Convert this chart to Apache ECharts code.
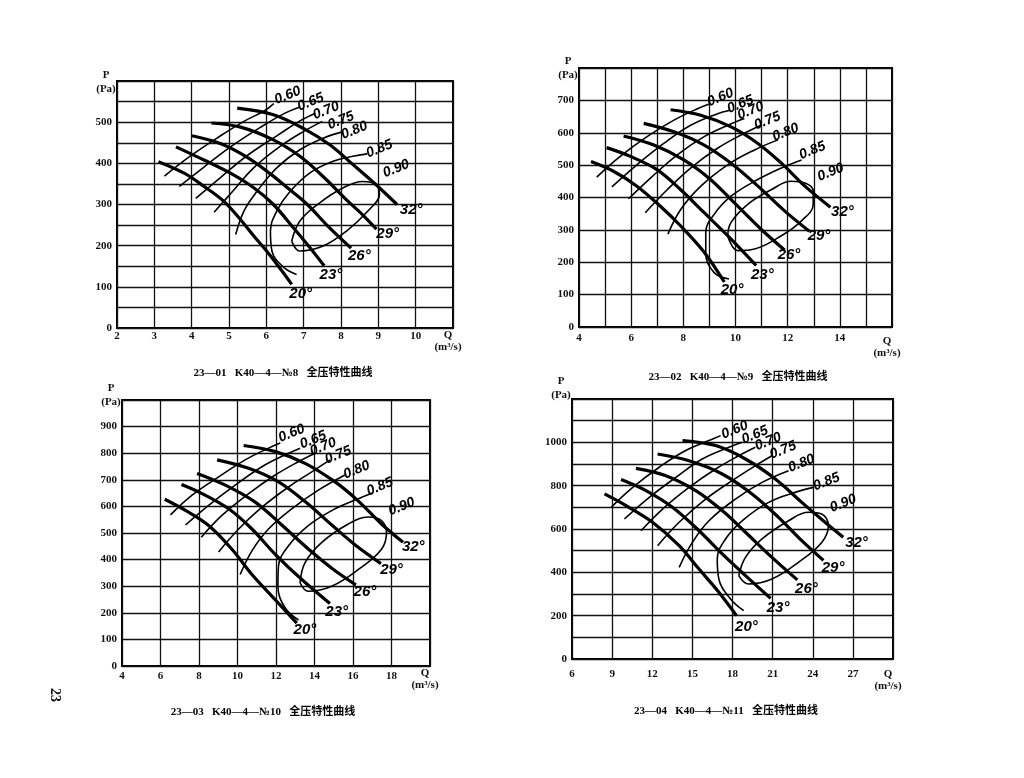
<!DOCTYPE html>
<html><head><meta charset="utf-8">
<script src="https://cdn.jsdelivr.net/npm/echarts/dist/echarts.min.js"></script>
<style>html,body{margin:0;padding:0;background:#fff}#c{width:1024px;height:778px}</style>
</head><body><div id="c"></div><script>
// ---------- names / titles ----------
const bladeNames = ['20°','23°','26°','29°','32°'];
const effNames = ['0.60','0.65','0.70','0.75','0.80','0.85','0.90'];
const titles = ['23—01   K40—4—№8   全压特性曲线','23—02   K40—4—№9   全压特性曲线','23—03   K40—4—№10   全压特性曲线','23—04   K40—4—№11   全压特性曲线'];

// ---------- tick labels ----------
const p1XTicks=[2,3,4,5,6,7,8,9,10];       const p1YTicks=[0,100,200,300,400,500];
const p2XTicks=[4,6,8,10,12,14];           const p2YTicks=[0,100,200,300,400,500,600,700];
const p3XTicks=[4,6,8,10,12,14,16,18];     const p3YTicks=[0,100,200,300,400,500,600,700,800,900];
const p4XTicks=[6,9,12,15,18,21,24,27];    const p4YTicks=[0,200,400,600,800,1000];

// ---------- panel 1 (No.8) ----------
const p1Blade=[
 [[3.11,404],[3.8,376],[4.33,344],[4.87,307],[5.31,263],[5.67,223],[5.98,190],[6.34,148],[6.68,106]],
 [[3.58,440],[4.33,408],[5.04,376],[5.67,340],[6.19,300],[6.73,243],[7.17,195],[7.55,151]],
 [[4.01,467],[4.8,447],[5.5,414],[6.1,375],[6.6,338],[7.1,300],[7.6,252],[8.27,194]],
 [[4.53,498],[5.31,488],[6.19,457],[6.9,417],[7.52,368],[8.14,312],[8.58,275],[8.95,240]],
 [[5.22,534],[6.19,518],[6.99,485],[7.7,445],[8.32,397],[8.94,348],[9.5,300]]
];
const p1Eff=[
 [[3.27,369],[3.97,418],[4.69,462],[5.4,502],[5.94,527],[6.2,545]],
 [[3.67,344],[4.33,391],[5.04,440],[5.85,488],[6.5,522],[6.9,537]],
 [[4.11,315],[4.78,366],[5.49,419],[6.3,468],[6.9,503],[7.3,521]],
 [[4.6,281],[5.1,332],[5.66,389],[6.37,441],[6.99,477],[7.5,502]],
 [[5.18,227],[5.4,284],[5.75,332],[6.28,389],[6.9,433],[7.52,461],[8.05,477]],
 [[6.81,130],[6.46,148],[6.15,187],[6.11,235],[6.28,284],[6.64,332],[7.17,377],[7.79,405],[8.32,417],[8.7,423]],
 [[6.68,211],[6.9,187],[7.52,199],[8.14,235],[8.76,288],[9.03,324],[8.94,348],[8.58,356],[8.05,340],[7.43,304],[6.9,260],[6.68,211]]
];
const p1BladeLabelPos=[[6.92,83],[7.73,128],[8.49,176],[9.25,229],[9.88,286]];
const p1EffLabelPos=[[6.57,565],[7.19,549],[7.6,528],[8.0,504],[8.36,480],[9.03,435],[9.48,387]];

// ---------- panel 2 (No.9) ----------
const p2Blade=[
 [[4.46,511],[5.32,481],[6.22,435],[7.12,373],[7.9,312],[8.8,231],[9.57,139]],
 [[5.06,554],[5.97,527],[6.99,486],[7.9,424],[8.8,353],[9.7,282],[10.79,190]],
 [[5.71,590],[6.87,562],[8.02,516],[9.05,455],[9.95,384],[10.98,302],[11.88,238]],
 [[6.48,629],[7.64,603],[8.8,562],[9.83,506],[10.86,435],[11.89,358],[12.83,296]],
 [[7.51,671],[8.67,654],[9.83,618],[10.86,567],[11.76,506],[12.66,435],[13.64,370]]
];
const p2Eff=[
 [[4.68,463],[5.58,527],[6.61,588],[7.64,639],[8.54,674],[9.05,690]],
 [[5.26,433],[6.22,501],[7.25,567],[8.28,623],[9.31,659],[9.76,669]],
 [[5.9,396],[6.74,460],[7.77,532],[8.8,588],[9.7,623],[10.34,644]],
 [[6.54,353],[7.38,424],[8.28,491],[9.31,552],[10.21,593],[10.98,623]],
 [[7.41,287],[7.9,363],[8.67,435],[9.7,501],[10.73,547],[11.63,578]],
 [[9.75,148],[9.18,168],[8.86,226],[8.86,292],[9.18,348],[9.83,404],[10.73,450],[11.76,491],[12.53,516]],
 [[9.7,282],[10.08,236],[10.73,241],[11.76,282],[12.53,328],[12.98,379],[12.98,419],[12.66,445],[12.14,450],[11.37,424],[10.47,379],[9.83,323],[9.7,282]]
];
const p2BladeLabelPos=[[9.87,114],[11.03,160],[12.05,222],[13.2,283],[14.1,355]];
const p2EffLabelPos=[[9.42,709],[10.19,688],[10.58,668],[11.22,637],[11.92,601],[12.95,545],[13.65,478]];

// ---------- panel 3 (No.10) ----------
const p3Blade=[
 [[6.22,627],[7.3,585],[8.5,528],[9.71,439],[10.75,344],[11.96,249],[13.08,161]],
 [[7.09,682],[8.16,648],[9.54,591],[10.75,515],[11.96,420],[13.34,325],[14.8,235]],
 [[7.9,724],[9.37,680],[10.92,616],[12.3,530],[13.68,440],[14.95,365],[16.15,305]],
 [[8.94,775],[10.58,743],[12.13,692],[13.51,618],[14.9,530],[16.2,450],[17.45,385]],
 [[10.32,829],[11.96,806],[13.51,762],[15.07,692],[16.28,620],[17.48,534],[18.6,465]]
];
const p3Eff=[
 [[6.52,568],[7.64,642],[9.02,711],[10.4,775],[11.61,819],[12.22,838]],
 [[7.3,530],[8.5,604],[9.88,680],[11.27,749],[12.48,794],[13.25,819]],
 [[8.12,484],[9.19,566],[10.58,648],[11.96,718],[13.16,768],[14.03,800]],
 [[9.02,429],[10.06,515],[11.27,597],[12.65,673],[13.86,730],[14.81,775]],
 [[10.14,344],[10.75,433],[11.61,515],[12.82,591],[14.2,661],[15.58,718]],
 [[13.17,173],[12.48,218],[12.1,300],[12.13,376],[12.65,452],[13.68,528],[15.07,591],[16.28,629],[17.05,651]],
 [[13.25,313],[13.68,281],[14.89,300],[16.28,363],[17.48,439],[17.74,503],[17.48,547],[16.79,560],[15.76,534],[14.38,465],[13.51,389],[13.25,313]]
];
const p3BladeLabelPos=[[13.5,135],[15.15,204],[16.62,279],[18.0,361],[19.13,449]];
const p3EffLabelPos=[[12.81,875],[13.93,850],[14.45,824],[15.23,793],[16.19,737],[17.4,674],[18.53,599]];

// ---------- panel 4 (No.11) ----------
const p4Blade=[
 [[8.43,762],[10.04,708],[12.02,631],[14.01,523],[15.5,415],[16.98,308],[18.3,200]],
 [[9.67,828],[11.53,777],[13.51,700],[15.5,592],[17.23,485],[18.97,385],[20.85,280]],
 [[10.78,880],[13.02,846],[15.25,777],[17.23,685],[18.97,585],[20.95,469],[22.85,365]],
 [[12.4,946],[14.75,915],[17.23,854],[19.46,762],[21.44,654],[23.18,546],[24.8,455]],
 [[14.26,1008],[16.74,985],[18.97,923],[21.2,831],[23.18,723],[24.92,631],[26.28,562]]
];
const p4Eff=[
 [[8.93,700],[10.54,792],[12.52,885],[14.5,962],[16.24,1008],[17.11,1031]],
 [[9.92,646],[11.78,746],[13.76,838],[15.74,923],[17.73,977],[18.72,1000]],
 [[11.16,592],[12.77,692],[14.75,792],[16.74,877],[18.47,938],[19.71,977]],
 [[12.4,523],[14.01,631],[15.99,738],[17.97,823],[19.71,892],[20.95,938]],
 [[14.01,423],[15.0,538],[16.24,638],[18.22,738],[20.21,815],[22.19,869]],
 [[18.84,223],[17.85,277],[16.98,369],[16.86,462],[17.48,554],[18.72,638],[20.7,723],[22.68,769],[24.05,792]],
 [[18.47,385],[19.21,346],[20.95,369],[22.93,446],[24.67,538],[25.17,615],[24.67,669],[23.68,677],[22.19,638],[20.21,554],[18.97,469],[18.47,385]]
];
const p4BladeLabelPos=[[19.04,149],[21.41,234],[23.53,326],[25.52,419],[27.27,534]];
const p4EffLabelPos=[[18.17,1057],[19.67,1034],[20.66,1003],[21.78,964],[23.16,903],[25.03,818],[26.27,718]];

// ---------- assembly ----------
const panels=[
 {blade:p1Blade,eff:p1Eff,bPos:p1BladeLabelPos,ePos:p1EffLabelPos,xt:p1XTicks,yt:p1YTicks},
 {blade:p2Blade,eff:p2Eff,bPos:p2BladeLabelPos,ePos:p2EffLabelPos,xt:p2XTicks,yt:p2YTicks},
 {blade:p3Blade,eff:p3Eff,bPos:p3BladeLabelPos,ePos:p3EffLabelPos,xt:p3XTicks,yt:p3YTicks},
 {blade:p4Blade,eff:p4Eff,bPos:p4BladeLabelPos,ePos:p4EffLabelPos,xt:p4XTicks,yt:p4YTicks}
];
const layout=[
 {grid:{left:117,top:81,width:336,height:247}, x:{min:2,max:11,interval:1}, y:{min:0,max:600,interval:50}, xm:3, qPad:1, pGap:-1, tx:283, ty:373},
 {grid:{left:579,top:68,width:313,height:259}, x:{min:4,max:16,interval:1}, y:{min:0,max:800,interval:100}, xm:6, qPad:8, pGap:0, tx:738, ty:377},
 {grid:{left:122,top:400,width:308,height:266}, x:{min:4,max:20,interval:2}, y:{min:0,max:1000,interval:100}, xm:5, qPad:1, pGap:5, tx:263, ty:712},
 {grid:{left:572,top:399,width:321,height:260}, x:{min:6,max:30,interval:3}, y:{min:0,max:1200,interval:100}, xm:10, qPad:9, pGap:11, tx:726, ty:711}
];
const serif="'Liberation Serif','DejaVu Serif',serif";
const sans="'Liberation Sans',Arial,sans-serif";
const ink='#111';
const grid=[],xAxis=[],yAxis=[],series=[];
panels.forEach((p,i)=>{
  const L=layout[i];
  grid.push(Object.assign({show:true,borderColor:'#000',borderWidth:2,backgroundColor:'transparent'},L.grid));
  xAxis.push({type:'value',gridIndex:i,min:L.x.min,max:L.x.max,interval:L.x.interval,
    axisLine:{show:false},axisTick:{show:false},
    splitLine:{show:true,lineStyle:{color:ink,width:1.3}},
    axisLabel:{margin:L.xm,color:ink,fontFamily:serif,fontWeight:'bold',fontSize:11,
      formatter:v=>p.xt.indexOf(Math.round(v*1000)/1000)>=0?String(v):''},
    name:'Q\n(m³/s)',nameLocation:'end',nameGap:-5,
    nameTextStyle:{align:'center',verticalAlign:'top',color:ink,fontFamily:serif,fontWeight:'bold',fontSize:11,lineHeight:12,padding:[L.qPad,0,0,0]}
  });
  yAxis.push({type:'value',gridIndex:i,min:L.y.min,max:L.y.max,interval:L.y.interval,
    axisLine:{show:false},axisTick:{show:false},
    splitLine:{show:true,lineStyle:{color:ink,width:1.3}},
    axisLabel:{margin:5,color:ink,fontFamily:serif,fontWeight:'bold',fontSize:11,
      formatter:v=>p.yt.indexOf(v)>=0?String(v):''},
    name:'P\n(Pa)',nameLocation:'end',nameGap:L.pGap,
    nameTextStyle:{align:'center',verticalAlign:'middle',color:ink,fontFamily:serif,fontWeight:'bold',fontSize:11,lineHeight:14,padding:[0,22,0,0]}
  });
  p.eff.forEach(c=>series.push({type:'line',xAxisIndex:i,yAxisIndex:i,data:c,smooth:0.4,showSymbol:false,silent:true,z:4,
    lineStyle:{color:'#000',width:1.6}}));
  p.blade.forEach(c=>series.push({type:'line',xAxisIndex:i,yAxisIndex:i,data:c,smooth:0.35,showSymbol:false,silent:true,z:5,
    lineStyle:{color:'#000',width:3.2}}));
  series.push({type:'scatter',xAxisIndex:i,yAxisIndex:i,symbolSize:0,itemStyle:{color:'#000',opacity:1},silent:true,z:6,
    data:p.bPos.map((q,k)=>[q[0],q[1],bladeNames[k]]),
    label:{show:true,position:'inside',formatter:d=>d.value[2],color:'#000',opacity:1,fontStyle:'italic',fontWeight:'bold',fontSize:15,fontFamily:sans}});
  series.push({type:'scatter',xAxisIndex:i,yAxisIndex:i,symbolSize:0,itemStyle:{color:'#000',opacity:1},silent:true,z:6,
    data:p.ePos.map((q,k)=>[q[0],q[1],effNames[k]]),
    label:{show:true,position:'inside',rotate:22,formatter:d=>d.value[2],color:'#000',opacity:1,fontStyle:'italic',fontWeight:'bold',fontSize:14,fontFamily:sans}});
});
const graphic=layout.map((L,i)=>({type:'text',x:L.tx,y:L.ty,style:{text:titles[i],align:'center',verticalAlign:'middle',fill:'#000',
  font:"bold 11px 'Liberation Serif','Noto Sans CJK SC',serif"}}));
graphic.push({type:'text',x:55,y:695,rotation:-Math.PI/2,style:{text:'23',align:'center',verticalAlign:'middle',fill:'#111',font:"bold 14px 'Liberation Serif',serif"}});
const chart=echarts.init(document.getElementById('c'));
chart.setOption({animation:false,backgroundColor:'#fff',grid,xAxis,yAxis,series,graphic});
</script></body></html>
